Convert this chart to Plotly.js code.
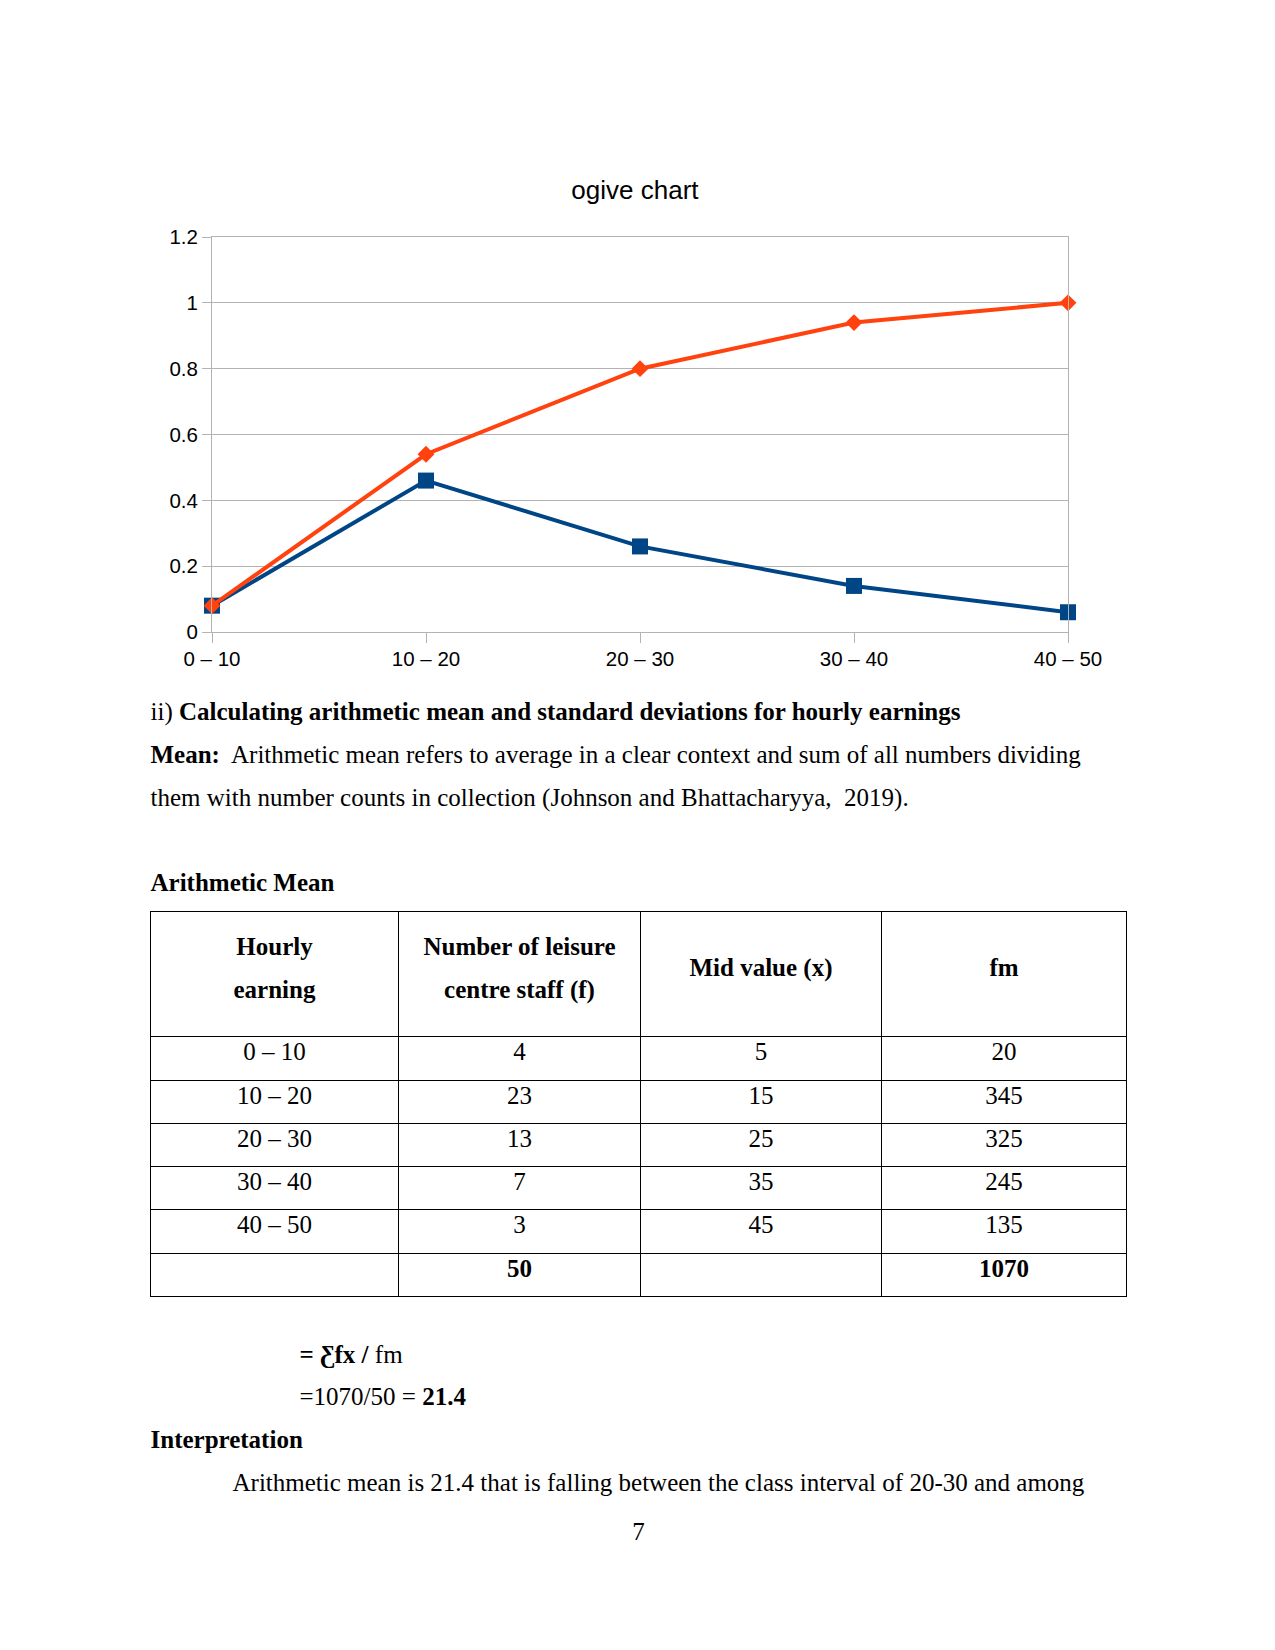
<!DOCTYPE html>
<html>
<head>
<meta charset="utf-8">
<script src="https://cdn.plot.ly/plotly-3.0.1.min.js"></script>
<style>
  html, body { margin: 0; padding: 0; background: #fff; }
  body { width: 1275px; height: 1650px; position: relative; overflow: hidden;
         font-family: "Liberation Serif", "Times New Roman", serif; color: #000; }
  #chart { position: absolute; left: 0; top: 0; width: 1275px; height: 700px; }
  .t { position: absolute; font-size: 25px; line-height: 30px; white-space: pre; }
  .hl { position: absolute; height: 1px; background: #000; }
  .vl { position: absolute; width: 1px; background: #000; }
  .c { position: absolute; font-size: 25px; white-space: pre; text-align: center; }
</style>
</head>
<body>
<div id="chart"></div>
<script>
// ---- chart data ----
const categories = ["0 – 10", "10 – 20", "20 – 30", "30 – 40", "40 – 50"];
const relativeFrequency = [0.08, 0.46, 0.26, 0.14, 0.06];
const cumulativeFrequency = [0.08, 0.54, 0.80, 0.94, 1.00];
const yTickValues = [0, 0.2, 0.4, 0.6, 0.8, 1, 1.2];

// ---- table data ----
const tableHeaders = ["Hourly\nearning", "Number of leisure\ncentre staff (f)", "Mid value (x)", "fm"];
const hourlyEarning = ["0 – 10", "10 – 20", "20 – 30", "30 – 40", "40 – 50", ""];
const staffCount = ["4", "23", "13", "7", "3", "50"];
const midValue = ["5", "15", "25", "35", "45", ""];
const fmValue = ["20", "345", "325", "245", "135", "1070"];

const traces = [
  {
    x: categories, y: relativeFrequency, type: "scatter", mode: "lines+markers",
    line: { color: "#004586", width: 4 },
    marker: { symbol: "square", size: 16, color: "#004586" },
    cliponaxis: false, hoverinfo: "skip"
  },
  {
    x: categories, y: cumulativeFrequency, type: "scatter", mode: "lines+markers",
    line: { color: "#ff420e", width: 4 },
    marker: { symbol: "diamond", size: 13, color: "#ff420e" },
    cliponaxis: false, hoverinfo: "skip"
  }
];

const layout = {
  width: 1275, height: 700,
  margin: { l: 212, r: 207, t: 237, b: 68, pad: 0 },
  paper_bgcolor: "rgba(0,0,0,0)", plot_bgcolor: "#fff",
  showlegend: false,
  font: { family: "Liberation Sans, Arial, sans-serif", size: 20.5, color: "#000" },
  title: {
    text: "ogive chart", font: { family: "Liberation Sans, Arial, sans-serif", size: 26, color: "#000" },
    xref: "container", x: 0.498, yref: "container", y: 1 - 190 / 700, yanchor: "middle", xanchor: "center"
  },
  xaxis: {
    type: "category", range: [0, 4], showgrid: false, zeroline: false,
    showline: true, mirror: true, linecolor: "#b3b3b3", linewidth: 1,
    ticks: "outside", ticklen: 10, tickcolor: "#b3b3b3", tickwidth: 1,
    ticklabelstandoff: -2,
    tickfont: { size: 20.5, color: "#000" }
  },
  yaxis: {
    range: [0, 1.2], tickvals: yTickValues, showgrid: true, gridcolor: "#b3b3b3", gridwidth: 1,
    zeroline: false, showline: true, mirror: true, linecolor: "#b3b3b3", linewidth: 1,
    ticks: "outside", ticklen: 9, tickcolor: "#b3b3b3", tickwidth: 1,
    tickfont: { size: 20.5, color: "#000" }
  },
  hovermode: false
};

Plotly.newPlot("chart", traces, layout, { displayModeBar: false, staticPlot: true });

// ---- page text ----
function textAt(html, x, baseline, extra) {
  const d = document.createElement("div");
  d.className = "t";
  d.style.left = x + "px";
  d.style.top = (baseline - 23.4) + "px";
  if (extra) Object.assign(d.style, extra);
  d.innerHTML = html;
  document.body.appendChild(d);
  return d;
}
textAt("ii) <b>Calculating arithmetic mean and standard deviations for hourly earnings</b>", 150.5, 720);
textAt("<b>Mean:</b>  Arithmetic mean refers to average in a clear context and sum of all numbers dividing", 150.5, 763.5);
textAt("them with number counts in collection (Johnson and Bhattacharyya,  2019).", 150.5, 806.5);
textAt("<b>Arithmetic Mean</b>", 150.5, 891.5);
textAt("<b>= Ƹfx /</b> fm", 299.5, 1363);
textAt("=1070/50 = <b>21.4</b>", 299.5, 1405.5);
textAt("<b>Interpretation</b>", 150.5, 1448);
textAt("Arithmetic mean is 21.4 that is falling between the class interval of 20-30 and among", 232.5, 1491);
const pg = textAt("7", 0, 1540, { width: "1275px", textAlign: "center", left: "1px" });

// ---- table ----
const colX = [150, 398, 640, 881, 1126];
const rowY = [911, 1036, 1080, 1123, 1166, 1209, 1253, 1296];
for (const y of rowY) {
  const d = document.createElement("div"); d.className = "hl";
  d.style.left = colX[0] + "px"; d.style.top = y + "px";
  d.style.width = (colX[colX.length - 1] - colX[0] + 1) + "px";
  document.body.appendChild(d);
}
for (const x of colX) {
  const d = document.createElement("div"); d.className = "vl";
  d.style.left = x + "px"; d.style.top = rowY[0] + "px";
  d.style.height = (rowY[rowY.length - 1] - rowY[0] + 1) + "px";
  document.body.appendChild(d);
}
function cell(text, col, baseline, bold, lh) {
  const d = document.createElement("div"); d.className = "c";
  const left = colX[col] + 1, width = colX[col + 1] - colX[col] - 1;
  d.style.left = left + "px"; d.style.width = width + "px";
  const lineH = lh || 30;
  const off = (lineH - 27.675) / 2 + 22.275;
  d.style.lineHeight = lineH + "px";
  d.style.top = (baseline - off) + "px";
  d.style.fontWeight = bold ? "bold" : "normal";
  d.textContent = text;
  document.body.appendChild(d);
}
tableHeaders.forEach((h, i) => {
  const twoLines = h.indexOf("\n") >= 0;
  cell(h, i, twoLines ? 956 : 976.5, true, 42.5);
});
const columns = [hourlyEarning, staffCount, midValue, fmValue];
for (let r = 0; r < hourlyEarning.length; r++) {
  const isTotal = r === hourlyEarning.length - 1;
  const base = rowY[r + 1] + 24.5;
  columns.forEach((col, ci) => cell(col[r], ci, base, isTotal));
}
</script>
</body>
</html>
